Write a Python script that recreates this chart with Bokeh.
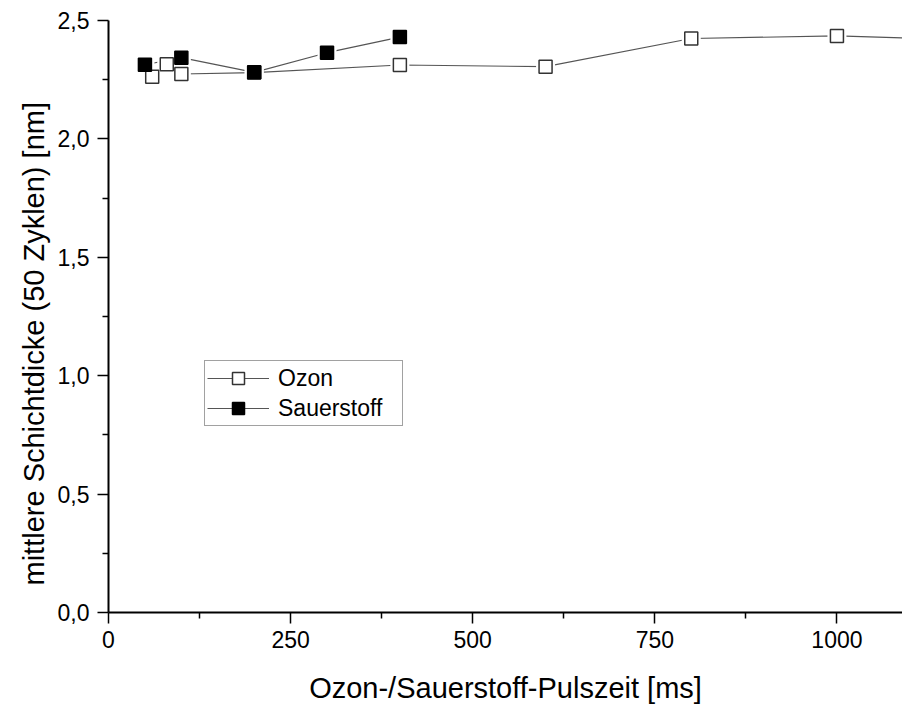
from bokeh.plotting import figure
from bokeh.models import (FixedTicker, CustomJSTickFormatter, Legend,
                          LegendItem, ColumnDataSource, Title)
from bokeh.embed import file_html
from bokeh.resources import INLINE

# Pulse time [ms] vs. mean layer thickness after 50 cycles [nm]
ozon_ms = [60, 80, 100, 200, 400, 600, 800, 1000, 1200]
ozon_nm = [2.262, 2.315, 2.274, 2.280, 2.312, 2.305, 2.424, 2.435, 2.416]

sauerstoff_ms = [50, 100, 200, 300, 400]
sauerstoff_nm = [2.313, 2.343, 2.281, 2.364, 2.430]

x_major = [0, 250, 500, 750, 1000]
x_minor = [125, 375, 625, 875]
y_major = [0.0, 0.5, 1.0, 1.5, 2.0, 2.5]
y_minor = [0.25, 0.75, 1.25, 1.75, 2.25]

FONT = "Liberation Sans"

ozon = ColumnDataSource(dict(x=ozon_ms, y=ozon_nm))
sauer = ColumnDataSource(dict(x=sauerstoff_ms, y=sauerstoff_nm))

p = figure(width=902, height=706, x_range=(0, 1090), y_range=(0, 2.5),
           output_backend="svg", toolbar_location=None, title=None,
           min_border_left=108, min_border_right=0,
           min_border_top=20, min_border_bottom=94)
p.grid.visible = False
p.outline_line_color = None
p.background_fill_color = "white"
p.border_fill_color = "white"

# connecting lines
l_oz = p.line("x", "y", source=ozon, line_color="#555555", line_width=1.2)
l_sa = p.line("x", "y", source=sauer, line_color="#555555", line_width=1.2)

# white halo so that lines stop just short of the symbols
p.scatter("x", "y", source=ozon, marker="square", size=19,
          fill_color="white", line_color=None)
p.scatter("x", "y", source=sauer, marker="square", size=19,
          fill_color="white", line_color=None)

m_oz = p.scatter("x", "y", source=ozon, marker="square", size=13,
                 fill_color="white", line_color="#333333", line_width=1.5)
m_sa = p.scatter("x", "y", source=sauer, marker="square", size=13,
                 fill_color="black", line_color="black", line_width=1.5)

# axes
for ax in (p.xaxis[0], p.yaxis[0]):
    ax.axis_line_color = "black"
    ax.axis_line_width = 2
    ax.major_tick_line_color = "black"
    ax.major_tick_line_width = 1.5
    ax.minor_tick_line_color = "black"
    ax.minor_tick_line_width = 1.5
    ax.major_tick_in = 0
    ax.major_tick_out = 11
    ax.minor_tick_in = 0
    ax.minor_tick_out = 6
    ax.major_label_text_font = FONT
    ax.major_label_text_font_size = "23px"
    ax.major_label_text_color = "black"

p.xaxis.ticker = FixedTicker(ticks=x_major, minor_ticks=x_minor)
p.yaxis.ticker = FixedTicker(ticks=y_major, minor_ticks=y_minor)
p.yaxis.formatter = CustomJSTickFormatter(
    code="return tick.toFixed(1).replace('.', ',');")
p.xaxis.major_label_standoff = 7
p.yaxis.major_label_standoff = 8

p.xaxis.axis_label = "Ozon-/Sauerstoff-Pulszeit [ms]"
p.xaxis.axis_label_text_font = FONT
p.xaxis.axis_label_text_font_size = "29px"
p.xaxis.axis_label_text_font_style = "normal"
p.xaxis.axis_label_text_color = "black"
p.xaxis.axis_label_standoff = 21

# y title as a side title, starting a little above the x axis
p.add_layout(Title(text="mittlere Schichtdicke (50 Zyklen) [nm]",
                   align="left", offset=27, standoff=10,
                   text_font=FONT, text_font_size="29px",
                   text_font_style="normal", text_color="black"), "left")

legend = Legend(items=[LegendItem(label="Ozon", renderers=[l_oz, m_oz]),
                       LegendItem(label="Sauerstoff", renderers=[l_sa, m_sa])],
                location=(96, 186), padding=2, spacing=0,
                glyph_width=62, glyph_height=30, label_standoff=9,
                label_width=122, margin=0,
                label_text_font=FONT, label_text_font_size="23px",
                label_text_color="black",
                border_line_color="#444444", border_line_width=1,
                background_fill_color="white", background_fill_alpha=1)
p.add_layout(legend, "center")

open("out.html", "w").write(file_html(p, INLINE))
